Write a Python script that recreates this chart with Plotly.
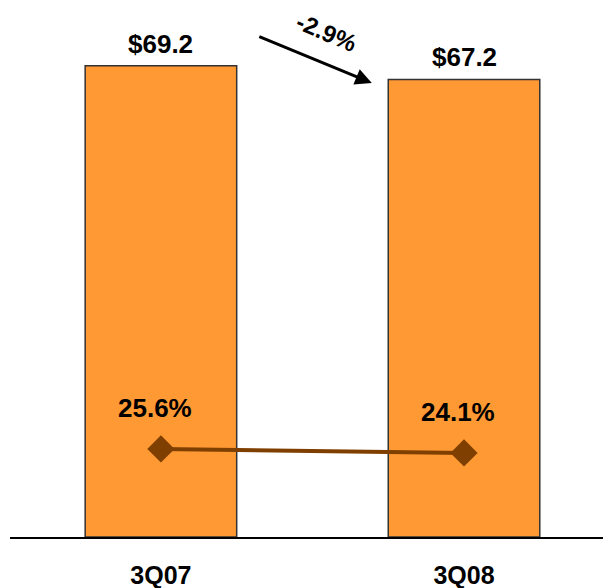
import plotly.graph_objects as go

categories = ["3Q07", "3Q08"]
revenue = [69.2, 67.2]
revenue_labels = ["$69.2", "$67.2"]
margin_pct = [25.6, 24.1]
margin_labels = ["25.6%", "24.1%"]
change_label = "-2.9%"

x_pos = list(range(len(categories)))
FONT = "Liberation Sans, Arial, sans-serif"

fig = go.Figure()
fig.add_trace(go.Bar(
    x=x_pos, y=revenue, width=[0.5] * len(x_pos),
    marker=dict(color="#FF9933", line=dict(color="#333333", width=1.5)),
    hoverinfo="skip", showlegend=False,
))
fig.add_trace(go.Scatter(
    x=x_pos, y=margin_pct, yaxis="y2", mode="lines+markers",
    line=dict(color="#7F3F00", width=4),
    marker=dict(symbol="diamond", size=21, color="#7F3F00"),
    hoverinfo="skip", showlegend=False,
))

annotations = []
for xi, v, t in zip(x_pos, revenue, revenue_labels):
    annotations.append(dict(x=xi, y=v, xref="x", yref="y", text=t, showarrow=False,
                            yshift=22, font=dict(family=FONT, size=26, color="black"),
                            xanchor="center", yanchor="middle"))
for xi, v, t in zip(x_pos, margin_pct, margin_labels):
    annotations.append(dict(x=xi, y=v, xref="x", yref="y2", text=t, showarrow=False,
                            yshift=41, xshift=-6, font=dict(family=FONT, size=26, color="black"),
                            xanchor="center", yanchor="middle"))
# change arrow
annotations.append(dict(x=0.602, y=0.858, xref="paper", yref="paper", text="",
                        showarrow=True, ax=-114, ay=-47, axref="pixel", ayref="pixel",
                        arrowhead=2, arrowsize=1.1, arrowwidth=3, arrowcolor="black"))
annotations.append(dict(x=0.527, y=0.953, xref="paper", yref="paper", text=change_label,
                        showarrow=False, textangle=23, xanchor="center", yanchor="middle",
                        font=dict(family=FONT, size=24, color="black")))

fig.update_layout(
    width=603, height=580,
    margin=dict(l=2, r=0, t=0, b=51),
    paper_bgcolor="white", plot_bgcolor="white",
    font=dict(family=FONT, color="black"),
    xaxis=dict(range=[-0.498, 1.485], tickvals=x_pos, ticktext=[f"<b>{c}</b>" for c in categories],
               showline=True, linecolor="black", linewidth=1.5, ticks="",
               showgrid=False, zeroline=False, ticklabelstandoff=15, automargin=False,
               tickfont=dict(family=FONT, size=25, color="black")),
    yaxis=dict(range=[0, 77.7], visible=False, showgrid=False, automargin=False),
    yaxis2=dict(range=[-7.4, 190.9], overlaying="y", visible=False, showgrid=False, automargin=False),
    annotations=annotations,
)
for a in fig.layout.annotations:
    if a.text:
        a.text = f"<b>{a.text}</b>"

fig.write_html("out.html")
